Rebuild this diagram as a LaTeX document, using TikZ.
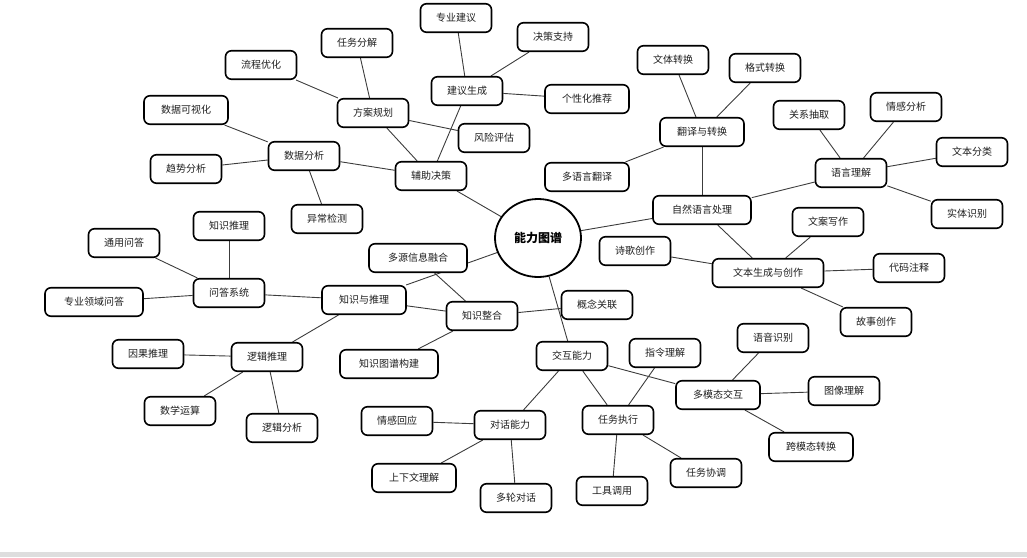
\documentclass[tikz,border=0pt]{standalone}
\usepackage{fontspec}
\setmainfont{Noto Sans CJK SC}
\usepackage{tikz}
\usetikzlibrary{shapes.geometric, backgrounds}
\definecolor{lineGray}{HTML}{3C3C3C}
\definecolor{bandGray}{HTML}{DEDEDE}
\begin{document}
\begin{tikzpicture}[
		x=1pt, y=-1pt,
		%--- Node Styles ---------------------------------------------------
		topic/.style={
			rectangle,
			rounded corners=6pt,
			draw=black,
			line width=1.6pt,
			fill=white,
			text=black!88,
			minimum width=71pt,
			minimum height=28.5pt,
			inner sep=2pt,
			align=center,
			font=\fontsize{10}{12}\selectfont
		},
		w5/.style={topic, minimum width=84pt},
		w6/.style={topic, minimum width=98pt},
		w7/.style={topic, minimum width=111pt},
		hub/.style={
			ellipse,
			draw=black,
			line width=1.8pt,
			fill=white,
			minimum width=86pt,
			minimum height=78pt,
			inner sep=0pt,
			font=\fontsize{12}{14}\selectfont\bfseries
		},
		%--- Link Style ----------------------------------------------------
		link/.style={
			draw=lineGray,
			line width=0.9pt
		}
		]
		
		\useasboundingbox (0,0) rectangle (1027,557);
		\fill[bandGray] (0,552) rectangle (1027,557);
		
		%--- Centre ------------------------------------------------------------
		
		\node[hub] (core) at (538,238) {能力图谱};
		
		%--- Decision Support Branch -------------------------------------------
		
		\node[topic] (decide)    at (431,176) {辅助决策};
		\node[topic] (dataana)   at (304,156) {数据分析};
		\node[w5]    (dataviz)   at (186,110) {数据可视化};
		\node[topic] (trend)     at (186,169) {趋势分析};
		\node[topic] (anomaly)   at (327,219) {异常检测};
		\node[topic] (plan)      at (373,113) {方案规划};
		\node[topic] (flow)      at (261,65)  {流程优化};
		\node[topic] (taskdec)   at (357,43)  {任务分解};
		\node[topic] (risk)      at (494,138) {风险评估};
		\node[topic] (advice)    at (467,91)  {建议生成};
		\node[topic] (expert)    at (456,18)  {专业建议};
		\node[topic] (support)   at (553,37)  {决策支持};
		\node[w5]    (recommend) at (587,99)  {个性化推荐};
		
		%--- Language Processing Branch ----------------------------------------
		
		\node[w6]    (nlp)        at (702,210) {自然语言处理};
		\node[w5]    (trans)      at (702,132) {翻译与转换};
		\node[topic] (style)      at (673,60)  {文体转换};
		\node[topic] (format)     at (765,68)  {格式转换};
		\node[w5]    (multiling)  at (587,177) {多语言翻译};
		\node[topic] (understand) at (851,173) {语言理解};
		\node[topic] (relation)   at (809,115) {关系抽取};
		\node[topic] (sentiment)  at (906,107) {情感分析};
		\node[topic] (classify)   at (972,152) {文本分类};
		\node[topic] (entity)     at (967,214) {实体识别};
		\node[w7]    (generate)   at (768,273) {文本生成与创作};
		\node[topic] (copy)       at (828,222) {文案写作};
		\node[topic] (poetry)     at (635,251) {诗歌创作};
		\node[topic] (comment)    at (909,268) {代码注释};
		\node[topic] (story)      at (876,322) {故事创作};
		
		%--- Knowledge Branch --------------------------------------------------
		
		\node[w5]    (knowledge) at (364,300) {知识与推理};
		\node[topic] (qa)        at (229,293) {问答系统};
		\node[topic] (kinfer)    at (229,226) {知识推理};
		\node[topic] (generalqa) at (124,243) {通用问答};
		\node[w6]    (domainqa)  at (94,302)  {专业领域问答};
		\node[topic] (logic)     at (267,357) {逻辑推理};
		\node[topic] (causal)    at (148,354) {因果推理};
		\node[topic] (math)      at (180,411) {数学运算};
		\node[topic] (logicana)  at (282,428) {逻辑分析};
		\node[topic] (integrate) at (482,316) {知识整合};
		\node[w6]    (fusion)    at (418,258) {多源信息融合};
		\node[w6]    (kgbuild)   at (389,364) {知识图谱构建};
		\node[topic] (concept)   at (597,305) {概念关联};
		
		%--- Interaction Branch ------------------------------------------------
		
		\node[topic] (interact)   at (572,356) {交互能力};
		\node[topic] (dialog)     at (510,425) {对话能力};
		\node[topic] (empathy)    at (397,421) {情感回应};
		\node[w5]    (context)    at (414,478) {上下文理解};
		\node[topic] (multiturn)  at (516,498) {多轮对话};
		\node[topic] (execute)    at (618,420) {任务执行};
		\node[topic] (instruct)   at (665,353) {指令理解};
		\node[topic] (tool)       at (612,491) {工具调用};
		\node[topic] (coord)      at (706,473) {任务协调};
		\node[w5]    (multimodal) at (718,395) {多模态交互};
		\node[topic] (speech)     at (773,338) {语音识别};
		\node[topic] (image)      at (844,391) {图像理解};
		\node[w5]    (crossmodal) at (811,447) {跨模态转换};
		
		%--- Links (behind the boxes) ------------------------------------------
		
		\begin{scope}[on background layer]
			\draw[link] (core) -- (decide);
			\draw[link] (core) -- (nlp);
			\draw[link] (core) -- (knowledge);
			\draw[link] (core) -- (interact);
			
			\draw[link] (decide) -- (dataana);
			\draw[link] (decide) -- (plan);
			\draw[link] (decide) -- (advice);
			\draw[link] (dataana) -- (dataviz);
			\draw[link] (dataana) -- (trend);
			\draw[link] (dataana) -- (anomaly);
			\draw[link] (plan) -- (flow);
			\draw[link] (plan) -- (taskdec);
			\draw[link] (plan) -- (risk);
			\draw[link] (advice) -- (expert);
			\draw[link] (advice) -- (support);
			\draw[link] (advice) -- (recommend);
			
			\draw[link] (nlp) -- (trans);
			\draw[link] (nlp) -- (understand);
			\draw[link] (nlp) -- (generate);
			\draw[link] (trans) -- (style);
			\draw[link] (trans) -- (format);
			\draw[link] (trans) -- (multiling);
			\draw[link] (understand) -- (relation);
			\draw[link] (understand) -- (sentiment);
			\draw[link] (understand) -- (classify);
			\draw[link] (understand) -- (entity);
			\draw[link] (generate) -- (copy);
			\draw[link] (generate) -- (poetry);
			\draw[link] (generate) -- (comment);
			\draw[link] (generate) -- (story);
			
			\draw[link] (knowledge) -- (qa);
			\draw[link] (knowledge) -- (logic);
			\draw[link] (knowledge) -- (integrate);
			\draw[link] (qa) -- (kinfer);
			\draw[link] (qa) -- (generalqa);
			\draw[link] (qa) -- (domainqa);
			\draw[link] (logic) -- (causal);
			\draw[link] (logic) -- (math);
			\draw[link] (logic) -- (logicana);
			\draw[link] (integrate) -- (fusion);
			\draw[link] (integrate) -- (kgbuild);
			\draw[link] (integrate) -- (concept);
			
			\draw[link] (interact) -- (dialog);
			\draw[link] (interact) -- (execute);
			\draw[link] (interact) -- (multimodal);
			\draw[link] (dialog) -- (empathy);
			\draw[link] (dialog) -- (context);
			\draw[link] (dialog) -- (multiturn);
			\draw[link] (execute) -- (instruct);
			\draw[link] (execute) -- (tool);
			\draw[link] (execute) -- (coord);
			\draw[link] (multimodal) -- (speech);
			\draw[link] (multimodal) -- (image);
			\draw[link] (multimodal) -- (crossmodal);
		\end{scope}
		
	\end{tikzpicture}
\end{document}
